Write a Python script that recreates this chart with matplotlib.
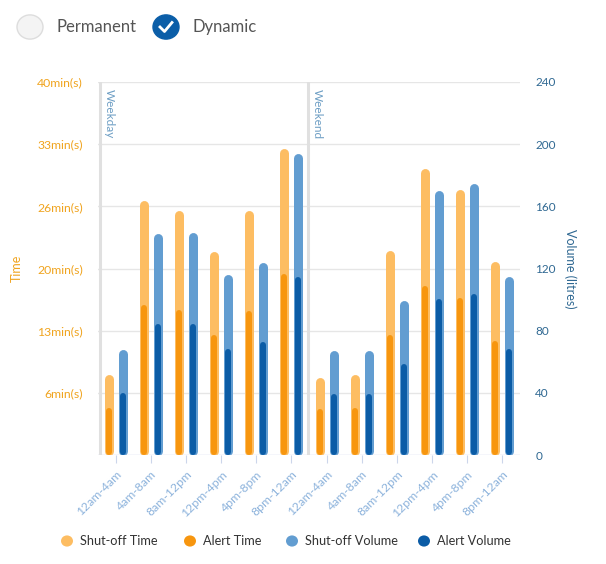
# Shut-off / alert time and volume, weekday vs weekend

import numpy as np
import matplotlib.pyplot as plt
from matplotlib.patches import Circle
from matplotlib.lines import Line2D

categories = ['12am-4am', '4am-8am', '8am-12pm', '12pm-4pm', '4pm-8pm', '8pm-12am',
              '12am-4am', '4am-8am', '8am-12pm', '12pm-4pm', '4pm-8pm', '8pm-12am']
shutoff_time = [8.6, 27.3, 26.2, 21.8, 26.2, 32.9, 8.3, 8.65, 21.9, 30.7, 28.5, 20.8]
alert_time = [5.0, 16.1, 15.5, 12.9, 15.4, 19.4, 4.9, 5.0, 12.9, 18.1, 16.8, 12.2]
shutoff_volume = [67.6, 142.2, 143, 116.3, 123.7, 193.7, 67.1, 67.1, 99.1, 170, 174.4, 114.7]
alert_volume = [39.7, 84.1, 84.1, 68, 72.9, 114.3, 39, 39, 58.6, 100.6, 103.6, 68]

time_ticks = np.linspace(0, 40, 7)
volume_ticks = np.arange(0, 241, 40)

c_time_light = '#fdbd62'
c_time = '#f7960f'
c_vol_light = '#629dd1'
c_vol = '#0b5ca6'
c_orange_txt = '#f0a41f'
c_blue_txt = '#2f6892'

plt.rcParams['font.family'] = ['Lato', 'DejaVu Sans']

W, H = 606, 564
fig = plt.figure(figsize=(W / 100, H / 100), dpi=100)
ax = fig.add_axes([98 / W, 1 - 455 / H, 422 / W, 373 / H])
ax2 = ax.twinx()

x = np.arange(len(categories))
ax.set_xlim(-0.5, len(categories) - 0.5)
ax.set_ylim(0, 40)
ax2.set_ylim(0, 240)

# grid
for t in time_ticks[1:]:
    ax.axhline(t, color='#e6e6e6', lw=1, zorder=0)
ax.axhline(0, color='#ccd6eb', lw=1, zorder=1)

# plot lines for weekday / weekend
for pos, lbl in [(-0.45, 'Weekday'), (5.47, 'Weekend')]:
    ax.axvline(pos, color='#e0e0e0', lw=2.2, zorder=1)
    ax.text(pos + 0.12, 39.2, lbl, rotation=270, va='top', ha='left',
            color='#6d9ec4', fontsize=8.5)

px_min = 373 / 40
px_lit = 373 / 240


def rounded_bars(axis, xs, vals, color, width_px, px_per_unit):
    r = width_px / 2 / px_per_unit
    for xi, v in zip(xs, vals):
        axis.plot([xi, xi], [r, max(v - r, r)], color=color, lw=width_px * 0.72,
                  solid_capstyle='round', zorder=3)


off = 0.2
rounded_bars(ax, x - off, shutoff_time, c_time_light, 9, px_min)
rounded_bars(ax, x - off, alert_time, c_time, 6, px_min)
rounded_bars(ax2, x + off, shutoff_volume, c_vol_light, 9, px_lit)
rounded_bars(ax2, x + off, alert_volume, c_vol, 6, px_lit)

# axes styling
for a in (ax, ax2):
    for s in a.spines.values():
        s.set_visible(False)

ax.set_yticks(time_ticks)
ax.set_yticklabels(['' if t == 0 else f'{int(t)}min(s)' for t in time_ticks])
ax.tick_params(axis='y', length=0, pad=11, labelcolor=c_orange_txt, labelsize=8.8)
ax.set_ylabel('Time', color=c_orange_txt, fontsize=9, labelpad=10)

ax2.set_yticks(volume_ticks)
ax2.tick_params(axis='y', length=0, pad=11, labelcolor=c_blue_txt, labelsize=8.5)
ax2.set_ylabel('Volume (litres)', color=c_blue_txt, fontsize=9, rotation=270,
               labelpad=15)

ax.set_xticks(x)
ax.set_xticklabels(categories, rotation=45, ha='right', rotation_mode='anchor')
ax.tick_params(axis='x', length=6, color='#ccd6eb', pad=4, labelcolor='#8db3dc',
               labelsize=8.8)

# top toggles
def fx(px):
    return px / W


def fy(py):
    return 1 - py / H


fig.patches.append(Circle((fx(30), fy(27)), 13 / W, transform=fig.transFigure,
                          facecolor='#f4f4f4', edgecolor='#dddddd', lw=1))
fig.text(fx(56), fy(27), 'Permanent', fontsize=12, color='#555555', va='center')
fig.patches.append(Circle((fx(166), fy(27)), 13 / W, transform=fig.transFigure,
                          facecolor='#0b5ea8', edgecolor='#0b5ea8', lw=1))
fig.lines.append(Line2D([fx(160), fx(164.5), fx(172)], [fy(27), fy(31.5), fy(22.5)],
                        transform=fig.transFigure, color='white', lw=2))
fig.text(fx(192), fy(27), 'Dynamic', fontsize=12, color='#555555', va='center')

# legend
legend_items = [('Shut-off Time', c_time_light, 67), ('Alert Time', c_time, 190),
                ('Shut-off Volume', c_vol_light, 292), ('Alert Volume', c_vol, 424)]
for lbl, col, px in legend_items:
    fig.patches.append(Circle((fx(px), fy(541)), 6 / W, transform=fig.transFigure,
                              facecolor=col, edgecolor='none'))
    fig.text(fx(px + 13), fy(541), lbl, fontsize=9.2, color='#333333', va='center')

fig.savefig('out.png', dpi=100, facecolor='white')
